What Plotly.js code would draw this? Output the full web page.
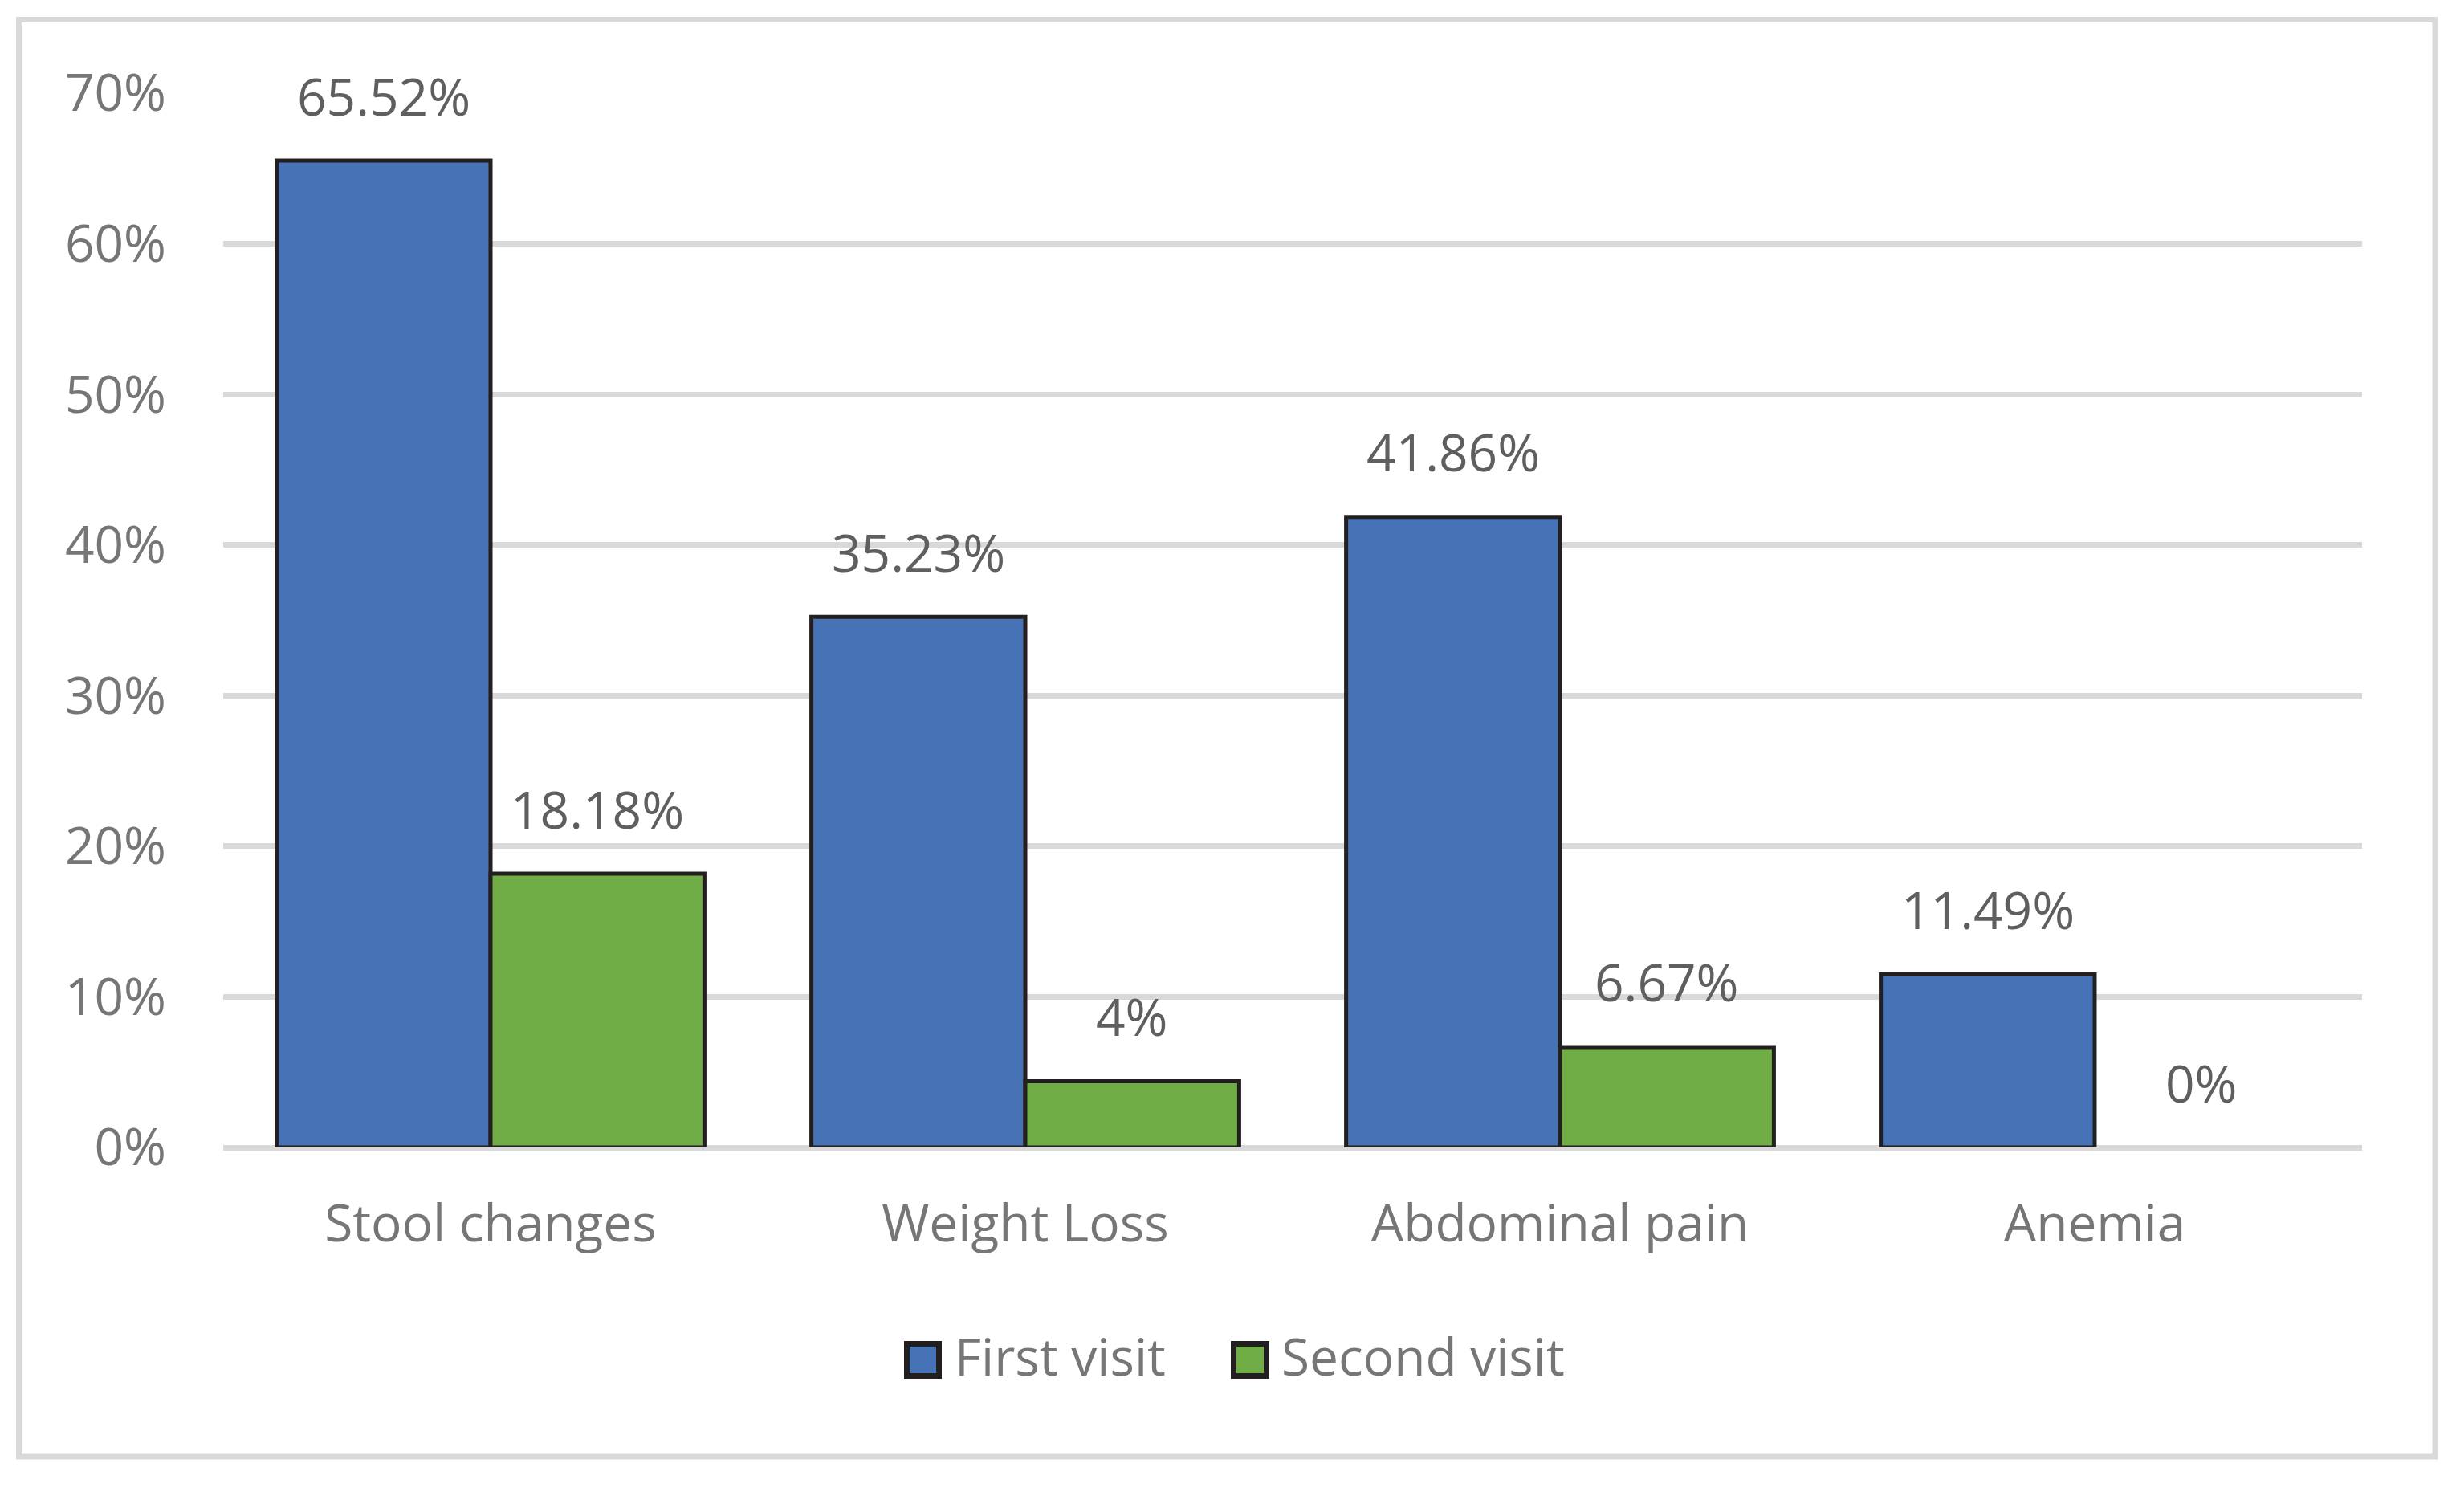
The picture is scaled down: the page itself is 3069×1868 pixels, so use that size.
<!DOCTYPE html>
<html>
<head>
<meta charset="utf-8">
<script src="https://cdn.plot.ly/plotly-3.0.1.min.js"></script>
<style>
  html, body { margin: 0; padding: 0; background: #ffffff; }
  #chart { width: 3069px; height: 1868px; }
</style>
</head>
<body>
<div id="chart"></div>
<script>
// ---- data ----
const categories = ["Stool changes", "Weight Loss", "Abdominal pain", "Anemia"];
const seriesNames = ["First visit", "Second visit"];
const firstVisit = [65.52, 35.23, 41.86, 11.49];
const secondVisit = [18.18, 4.4, 6.67, 0];
const firstLabels = ["65.52%", "35.23%", "41.86%", "11.49%"];
const secondLabels = ["18.18%", "4%", "6.67%", "0%"];
const yTickVals = [0, 10, 20, 30, 40, 50, 60, 70];
const yTickText = ["0%", "10%", "20%", "30%", "40%", "50%", "60%", "70%"];

// ---- styling / layout geometry ----
const FIG_W = 3069, FIG_H = 1868;
const L = 278, R = 127, T = 116, B = 439;
const W = FIG_W - L - R, H = FIG_H - T - B;
const px2x = p => (p - L) / W;
const py2y = p => (T + H - p) / H;
const FONT = "Open Sans, Noto Sans, sans-serif";
const FS = 64;
const COLORS = ["#4672B6", "#70AD47"];
const OUTLINE = "#231F20";
const GRID = "#D9D9D9";
const AXIS_TXT = "#767676";
const LABEL_TXT = "#5F5F5F";
const BARGAP = 0.2;
const halfBar = (W / categories.length) * (1 - BARGAP) / 4;

const traces = [firstVisit, secondVisit].map((vals, i) => ({
  type: "bar",
  name: seriesNames[i],
  x: categories,
  y: vals,
  marker: {
    color: COLORS[i],
    line: { color: OUTLINE, width: vals.map(v => (v > 0 ? 5 : 0)) }
  },
  hoverinfo: "x+y"
}));

const annotations = [];
[firstLabels, secondLabels].forEach((labels, i) => {
  const vals = i === 0 ? firstVisit : secondVisit;
  labels.forEach((t, j) => {
    annotations.push({
      x: categories[j], y: vals[j], xref: "x", yref: "y",
      text: t, showarrow: false,
      xanchor: "center", yanchor: "middle",
      xshift: (i === 0 ? -1 : 1) * halfBar, yshift: 81,
      font: { family: FONT, size: FS, color: LABEL_TXT }
    });
  });
});

// custom legend
const legendItems = [
  { name: seriesNames[0], color: COLORS[0], sx0: 1129.5, sx1: 1169.5, tx: 1187 },
  { name: seriesNames[1], color: COLORS[1], sx0: 1536.5, sx1: 1577.5, tx: 1594 }
];
const shapes = [];
legendItems.forEach(it => {
  shapes.push({
    type: "rect", xref: "paper", yref: "paper",
    x0: px2x(it.sx0), x1: px2x(it.sx1), y0: py2y(1713.5), y1: py2y(1673.5),
    fillcolor: it.color, line: { color: OUTLINE, width: 7 }
  });
  annotations.push({
    xref: "paper", yref: "paper", x: px2x(it.tx), y: py2y(1688),
    xanchor: "left", yanchor: "middle", showarrow: false,
    text: it.name, font: { family: FONT, size: FS, color: AXIS_TXT }
  });
});
// outer chart border
shapes.push({
  type: "rect", xref: "paper", yref: "paper", layer: "below",
  x0: px2x(23.5), x1: px2x(3033), y0: py2y(1814), y1: py2y(24.5),
  line: { color: GRID, width: 7 }, fillcolor: "rgba(0,0,0,0)"
});

const layout = {
  width: FIG_W, height: FIG_H,
  margin: { l: L, r: R, t: T, b: B, pad: 0 },
  paper_bgcolor: "#ffffff", plot_bgcolor: "#ffffff",
  font: { family: FONT, size: FS, color: AXIS_TXT },
  barmode: "group", bargap: BARGAP, bargroupgap: 0,
  showlegend: false,
  xaxis: {
    type: "category", showgrid: false, showline: false, zeroline: false,
    ticks: "", tickfont: { family: FONT, size: FS, color: AXIS_TXT },
    ticklabelstandoff: 52
  },
  yaxis: {
    range: [0, 70], tickmode: "array", tickvals: yTickVals, ticktext: yTickText,
    showgrid: true, gridcolor: GRID, gridwidth: 7,
    zeroline: true, zerolinecolor: GRID, zerolinewidth: 7,
    showline: false, ticks: "",
    tickfont: { family: FONT, size: FS, color: AXIS_TXT },
    ticklabelstandoff: 70
  },
  annotations: annotations,
  shapes: shapes
};

Plotly.newPlot("chart", traces, layout, { displayModeBar: false, staticPlot: true });
</script>
</body>
</html>
